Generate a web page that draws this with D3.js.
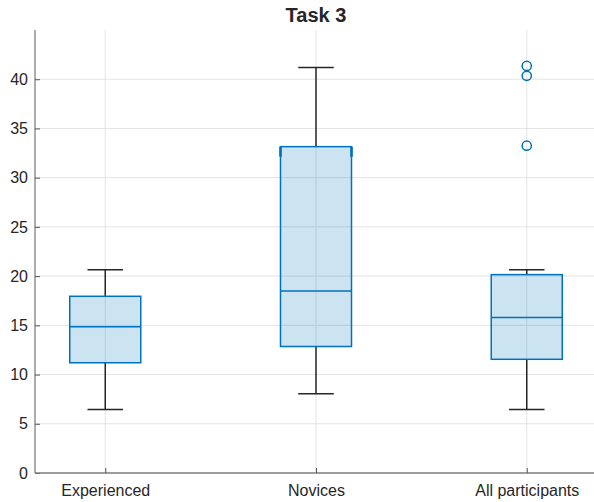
<!DOCTYPE html>
<html>
<head>
<meta charset="utf-8">
<script src="https://cdn.jsdelivr.net/npm/d3@7"></script>
<style>
  html, body { margin: 0; padding: 0; background: #fff; }
  svg { display: block; }
  text { font-family: "Liberation Sans", Arial, Helvetica, sans-serif; fill: #262626; }
</style>
</head>
<body>
<svg id="chart" width="594" height="502"></svg>
<script>
// Box chart summary statistics per group
const categories   = ["Experienced", "Novices", "All participants"];
const whiskerLow   = [6.45, 8.05, 6.45];
const lowerQuart   = [11.2, 12.85, 11.55];
const medians      = [14.85, 18.5, 15.8];
const upperQuart   = [17.95, 33.15, 20.15];
const whiskerHigh  = [20.65, 41.2, 20.65];
const outliers     = [[], [], [33.25, 40.35, 41.35]];
const notchTop     = [false, true, false];
const yTicks       = [0, 5, 10, 15, 20, 25, 30, 35, 40];
const yMax         = 45;

(function () {
const svg = d3.select("#chart");
const mLeft = 35, mRight = 597, mTop = 30, mBottom = 473;

const x = d3.scalePoint().domain(categories).range([mLeft, mRight]).padding(1 / 3);
const y = d3.scaleLinear().domain([0, yMax]).range([mBottom, mTop]);
const step = x.step();
const boxW = step * 0.337;
const capW = boxW / 2;

const blue = "#0072BD";
const gridColor = "#e3e3e3";
const fontFam = "Liberation Sans, Arial, sans-serif";

// Grid
svg.append("g").selectAll("line").data(yTicks).join("line")
  .attr("x1", mLeft).attr("x2", mRight)
  .attr("y1", d => y(d)).attr("y2", d => y(d))
  .attr("stroke", gridColor).attr("stroke-width", 1);
svg.append("g").selectAll("line").data(categories).join("line")
  .attr("x1", d => x(d)).attr("x2", d => x(d))
  .attr("y1", mTop).attr("y2", mBottom)
  .attr("stroke", gridColor).attr("stroke-width", 1);

// Axes
const yAxis = d3.axisLeft(y).tickValues(yTicks).tickSize(-5).tickPadding(7);
const gy = svg.append("g").attr("transform", `translate(${mLeft},0)`).call(yAxis);
gy.select(".domain").attr("d", `M0,${mTop}V${mBottom}`).attr("stroke", "#808080").attr("stroke-width", 1.3);
gy.selectAll(".tick line").attr("stroke", "#555");
gy.selectAll(".tick text").attr("font-size", 16).attr("fill", "#262626").attr("font-family", fontFam);

const xAxis = d3.axisBottom(x).tickSize(-5).tickPadding(12);
const gx = svg.append("g").attr("transform", `translate(0,${mBottom})`).call(xAxis);
gx.select(".domain").attr("d", `M${mLeft},0H${mRight}`).attr("stroke", "#808080").attr("stroke-width", 1.3);
gx.selectAll(".tick line").attr("stroke", "#555");
gx.selectAll(".tick text").attr("font-size", 16).attr("fill", "#262626").attr("font-family", fontFam);

// Boxes
const boxes = svg.append("g").selectAll("g").data(categories).join("g");

// Whiskers
boxes.append("line")
  .attr("x1", d => x(d)).attr("x2", d => x(d))
  .attr("y1", (d, i) => y(upperQuart[i])).attr("y2", (d, i) => y(whiskerHigh[i]))
  .attr("stroke", "#262626").attr("stroke-width", 1.5);
boxes.append("line")
  .attr("x1", d => x(d)).attr("x2", d => x(d))
  .attr("y1", (d, i) => y(lowerQuart[i])).attr("y2", (d, i) => y(whiskerLow[i]))
  .attr("stroke", "#262626").attr("stroke-width", 1.5);
boxes.append("line")
  .attr("x1", d => x(d) - capW / 2).attr("x2", d => x(d) + capW / 2)
  .attr("y1", (d, i) => y(whiskerHigh[i])).attr("y2", (d, i) => y(whiskerHigh[i]))
  .attr("stroke", "#262626").attr("stroke-width", 1.5);
boxes.append("line")
  .attr("x1", d => x(d) - capW / 2).attr("x2", d => x(d) + capW / 2)
  .attr("y1", (d, i) => y(whiskerLow[i])).attr("y2", (d, i) => y(whiskerLow[i]))
  .attr("stroke", "#262626").attr("stroke-width", 1.5);

// Box body
boxes.append("rect")
  .attr("x", d => x(d) - boxW / 2).attr("width", boxW)
  .attr("y", (d, i) => y(upperQuart[i]))
  .attr("height", (d, i) => y(lowerQuart[i]) - y(upperQuart[i]))
  .attr("fill", blue).attr("fill-opacity", 0.2)
  .attr("stroke", blue).attr("stroke-width", 1.5);

// Short heavier edge marks below the upper quartile (notch overshoot)
boxes.filter((d, i) => notchTop[i]).each(function (d, i) {
  const k = categories.indexOf(d);
  const yq = y(upperQuart[k]);
  d3.select(this).selectAll("line.notch").data([-1, 1]).join("line")
    .attr("class", "notch")
    .attr("x1", s => x(d) + s * boxW / 2).attr("x2", s => x(d) + s * boxW / 2)
    .attr("y1", yq).attr("y2", yq + 10)
    .attr("stroke", blue).attr("stroke-width", 2.6);
});

// Median
boxes.append("line")
  .attr("x1", d => x(d) - boxW / 2).attr("x2", d => x(d) + boxW / 2)
  .attr("y1", (d, i) => y(medians[i])).attr("y2", (d, i) => y(medians[i]))
  .attr("stroke", blue).attr("stroke-width", 1.5);

// Outliers
boxes.each(function (d, i) {
  d3.select(this).selectAll("circle").data(outliers[i]).join("circle")
    .attr("cx", x(d)).attr("cy", v => y(v)).attr("r", 4.6)
    .attr("fill", "none").attr("stroke", blue).attr("stroke-width", 1.5);
});

// Title
svg.append("text")
  .attr("x", (mLeft + mRight) / 2).attr("y", 22)
  .attr("text-anchor", "middle")
  .attr("font-size", 20).attr("font-weight", "bold").attr("fill", "#000")
  .attr("font-family", fontFam)
  .text("Task 3");
})();
</script>
</body>
</html>
